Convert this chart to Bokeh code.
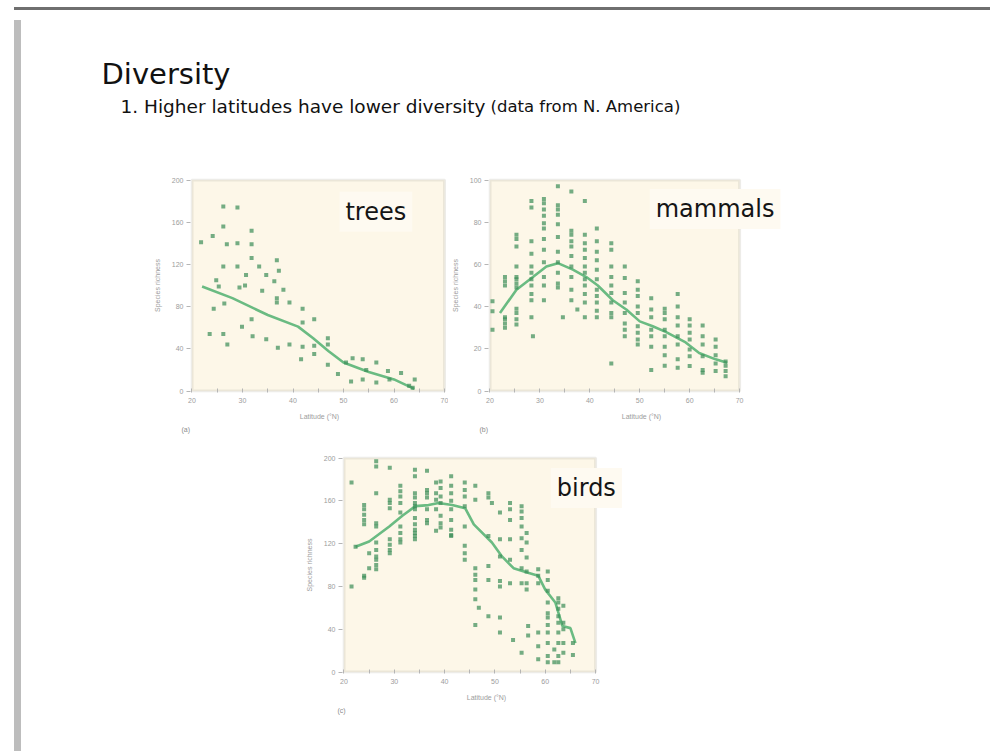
from bokeh.plotting import figure
from bokeh.layouts import column, row
from bokeh.models import Range1d, FixedTicker, Label, Div, Spacer, BoxAnnotation, Title
from bokeh.embed import file_html
from bokeh.resources import INLINE

# ---------------- data ----------------
title_text = "Diversity"
subtitle_text = "1. Higher latitudes have lower diversity"
subtitle_note = "(data from N. America)"
x_label = "Latitude (°N)"
y_label = "Species richness"
lat_ticks = [20, 30, 40, 50, 60, 70]
lat_minor = [25, 35, 45, 55, 65]

trees_lat = [26.2, 29.0, 21.8, 24.1, 26.2, 26.9, 29.0, 31.8, 31.8, 31.8, 26.2, 29.0, 30.7, 33.3,
             34.7, 36.8, 37.2, 24.8, 29.4, 30.5, 33.9, 36.3, 38.1, 25.3, 26.4, 36.8, 36.8, 39.3,
             24.3, 41.9, 31.8, 41.9, 44.2, 23.5, 26.2, 29.9, 32.0, 34.7, 27.0, 37.0, 39.3, 41.9,
             44.2, 46.9, 44.2, 46.9, 41.6, 46.9, 48.9, 50.5, 51.5, 53.8, 53.8, 56.5, 56.5, 58.8,
             61.4, 64.1, 63.7, 63.0, 59.1, 54.5, 51.8]
trees_rich = [175, 174, 141, 147, 156, 139, 140, 152, 139, 126, 118, 118, 110, 118,
              110, 124, 114, 105, 98, 100, 95, 104, 96, 99, 83, 88, 84, 84,
              78, 78, 68, 65, 68, 54, 54, 61, 52, 49, 44, 41, 44, 42,
              43, 50, 35, 44, 30, 25, 16, 27, 9, 30, 11, 27, 8, 19,
              17, 11, 3, 5, 11, 20, 31]
trees_trend_lat = [22, 28, 35, 41, 44, 47, 50, 55, 60, 64]
trees_trend_rich = [99, 88, 72, 61, 50, 38, 27, 18, 11, 2]
trees_yticks = [0, 40, 80, 120, 160, 200]

mammals_cols = [20.5, 23.0, 25.3, 28.3, 28.6, 30.8, 33.6, 34.6, 36.3, 37.5, 39.0, 41.4, 44.3,
                47.0, 49.6, 52.3, 55.0, 57.6, 60.0, 62.6, 65.2, 67.2]
mammals_vals = [
    [42.5, 37.8, 29],
    [54, 52, 50, 35, 34, 32, 30],
    [74, 72, 68.5, 59, 54, 53, 51, 49, 39, 37, 34, 31.5],
    [90, 87, 71, 65, 59, 56, 53, 50, 46, 43, 35],
    [26],
    [91, 89, 86, 83, 79.5, 77, 72, 67, 61, 54, 50, 43],
    [97, 88, 86, 83.5, 79, 73, 66, 61, 56, 51, 49],
    [35],
    [94.5, 76, 74, 71, 68.5, 64, 59, 54, 48, 43],
    [38.6],
    [90, 74, 70, 67, 63, 59, 56, 53, 50, 46, 42, 35],
    [77, 71, 66, 62, 57.5, 53, 48, 45, 42, 38, 35],
    [70, 67, 59, 54, 50, 46.5, 42, 37, 35, 13],
    [59, 53.5, 46.5, 42, 37, 32, 29, 26],
    [52, 48, 45, 40, 37, 30.7, 27.6, 24.4, 22],
    [44, 38.6, 35, 29, 26, 21, 10],
    [39, 37, 34, 29, 26, 21, 17, 12],
    [46, 40, 35, 31, 26, 22, 15, 11],
    [34, 31, 27.6, 24.4, 19.7, 16.5, 11.8],
    [31, 26, 22, 16.5, 10, 8.7],
    [24.4, 21, 17, 13, 9.5],
    [14, 12, 9.5, 7],
]
mammals_trend_lat = [22, 25.3, 28.6, 31.3, 33.6, 36.6, 39.3, 41.6, 44.6, 47.3, 50, 52.6, 55.2,
                     59.2, 61.9, 65.2, 67.5]
mammals_trend_rich = [37, 48, 54, 59, 60.6, 57.5, 54, 50, 43, 38.6, 33, 30.7, 28, 23, 18, 15, 13.4]
mammals_yticks = [0, 20, 40, 60, 80, 100]

birds_cols = [21.5, 22.3, 24.0, 25.0, 26.4, 29.1, 31.2, 34.1, 36.5, 38.3, 39.2, 41.3, 44.0,
              46.1, 46.8, 48.7, 49.4, 51.0, 53.0, 53.6, 55.3, 56.3, 56.6, 58.6, 60.5, 61.8,
              62.6, 63.6, 65.5]
birds_vals = [
    [177, 80],
    [117],
    [156, 152, 147, 142, 138, 90, 88],
    [97, 111],
    [197, 192, 167, 139, 136, 121, 114, 108, 105, 100, 96],
    [191, 161, 158, 153, 124, 119, 114, 111],
    [174, 169, 164, 158, 149, 136, 130, 124, 121],
    [189, 183, 167, 163, 158, 155, 152, 144, 138, 133, 130, 127, 124],
    [188, 170, 167, 163, 152, 142, 139],
    [177, 167, 161, 152, 132],
    [178, 172, 164, 158, 146, 139, 135],
    [183, 174, 167, 160, 152, 142, 133, 128, 127],
    [177, 170, 164, 155, 136, 118, 111, 105],
    [174, 161, 97, 91, 86, 77, 68, 44],
    [60],
    [167, 163, 127, 99, 86, 52],
    [158],
    [149, 124, 108, 85, 80, 51, 37],
    [158, 152, 142, 124, 105, 83],
    [30],
    [155, 150, 144, 136, 125, 114, 97, 83, 18],
    [130, 121, 107, 94, 83, 77],
    [43, 34],
    [96, 90, 83, 37, 24, 12],
    [94, 86, 76, 65, 55, 51, 44, 37, 27, 15, 9],
    [21, 9],
    [69, 65, 59, 52, 46, 37, 27, 15, 9],
    [62, 46, 40, 27, 18],
    [27, 16],
]
birds_trend_lat = [22.3, 25, 29, 31.6, 34.2, 36.8, 38.8, 41.5, 44.1, 45.8, 49.4, 51.4, 53.7,
                   56.4, 58.6, 60, 62, 63.4, 65, 66]
birds_trend_rich = [117, 122, 136, 146, 155, 156, 158, 156, 153, 138, 121, 108, 97, 93, 90, 77,
                    65, 43, 41, 27]
birds_yticks = [0, 40, 80, 120, 160, 200]


def flatten(cols, vals):
    xs, ys = [], []
    for c, vs in zip(cols, vals):
        for v in vs:
            xs.append(c)
            ys.append(v)
    return xs, ys


mammals_lat, mammals_rich = flatten(mammals_cols, mammals_vals)
birds_lat, birds_rich = flatten(birds_cols, birds_vals)

# ---------------- styles ----------------
FONT = "Liberation Sans"
BIG = "DejaVu Sans"
PT_COLOR = "#3f8f5a"
LINE_COLOR = "#45ab68"
BG = "#fdf7e8"
FRAME = "#c4bfb2"
TICK_TXT = "#9c9c9c"
XMIN, XMAX = 20, 70
PAD = 1.5


def panel(ox, oy, box_l, box_r, box_t, box_b, ext_r, bottom_h, ymax, yticks,
          xs, ys, tx, ty, name, name_x, name_y, tag, tag_off):
    ppx = (box_r - box_l) / (XMAX - XMIN)
    ppy = (box_b - box_t) / ymax
    frame_l = box_l - PAD
    frame_r = box_r + ext_r
    frame_t = box_t - PAD
    frame_b = box_b + PAD
    ml = int(round(frame_l - ox))
    fw = int(round(frame_r - frame_l))
    mt = int(round(frame_t - oy))
    fh = int(round(frame_b - frame_t))
    p = figure(width=ml + fw, height=mt + fh + bottom_h, output_backend="svg",
               toolbar_location=None,
               x_range=Range1d(XMIN - PAD / ppx, XMAX + ext_r / ppx),
               y_range=Range1d(-PAD / ppy, ymax + PAD / ppy),
               min_border_left=ml, min_border_right=0, min_border_top=mt,
               min_border_bottom=bottom_h)
    p.background_fill_color = "white"
    p.border_fill_color = "white"
    p.outline_line_color = None
    p.grid.visible = False
    p.add_layout(BoxAnnotation(left=XMIN, right=XMAX, bottom=0, top=ymax,
                               fill_color=BG, fill_alpha=1.0,
                               line_color=FRAME, line_width=3, level="underlay"))
    p.xaxis.ticker = FixedTicker(ticks=lat_ticks, minor_ticks=lat_minor)
    p.yaxis.ticker = FixedTicker(ticks=yticks)
    p.xaxis.bounds = (XMIN, XMAX)
    p.yaxis.bounds = (0, ymax)
    for ax in (p.xaxis[0], p.yaxis[0]):
        ax.axis_line_color = None
        ax.major_tick_line_color = "#b5b5b5"
        ax.minor_tick_line_color = "#b5b5b5"
        ax.major_label_text_font = FONT
        ax.major_label_text_font_size = "7px"
        ax.major_label_text_color = TICK_TXT
        ax.axis_label_text_font = FONT
        ax.axis_label_text_font_size = "7px"
        ax.axis_label_text_color = TICK_TXT
        ax.axis_label_text_font_style = "normal"
    p.xaxis.major_tick_in = 4
    p.xaxis.major_tick_out = 0
    p.xaxis.minor_tick_in = 4
    p.xaxis.minor_tick_out = 0
    p.xaxis.major_label_standoff = 5
    p.xaxis.axis_label_standoff = 7
    p.xaxis.axis_label = x_label
    p.yaxis.major_tick_in = 0
    p.yaxis.major_tick_out = 4
    p.yaxis.minor_tick_line_color = None
    p.yaxis.major_label_standoff = 3
    p.yaxis.axis_label_standoff = 8
    p.yaxis.axis_label = y_label

    p.line(tx, ty, line_color=LINE_COLOR, line_width=2.6, line_alpha=0.8)
    p.scatter(xs, ys, marker="square", size=4, fill_color=PT_COLOR, line_color=None,
              fill_alpha=0.72)
    p.add_layout(Label(x=name_x, y=name_y, text=name, text_font=BIG,
                       text_font_size="24px", text_color="#151515",
                       text_align="left", text_baseline="middle",
                       background_fill_color="#fefaf1", padding=6))
    p.add_layout(Title(text=tag, align="left", offset=tag_off, text_font=FONT,
                       text_font_size="7px", text_color="#8c8c8c",
                       text_font_style="normal", standoff=2), "below")
    return p


X0, Y0 = 24, 13          # content origin inside the page
HEADER_H = 147

trees = panel(X0, Y0 + HEADER_H, 189, 442, 177, 388, 4, 52, 200, trees_yticks,
              trees_lat, trees_rich, trees_trend_lat, trees_trend_rich,
              "trees", 49.2, 170, "(a)", -9)
mx = X0 + trees.width
mammals = panel(mx, Y0 + HEADER_H, 487, 737, 177, 388, 55, 52, 100, mammals_yticks,
                mammals_lat, mammals_rich, mammals_trend_lat, mammals_trend_rich,
                "mammals", 52.0, 86.3, "(b)", -9)
by = Y0 + HEADER_H + trees.height
birds = panel(X0, by, 342, 594, 455, 669, 35, 50, 200, birds_yticks,
              birds_lat, birds_rich, birds_trend_lat, birds_trend_rich,
              "birds", 61.1, 172, "(c)", -5)

# header (coordinates = pixels of this strip)
header = figure(width=969, height=HEADER_H, output_backend="svg", toolbar_location=None,
                x_range=Range1d(0, 969), y_range=Range1d(HEADER_H, 0),
                x_axis_type=None, y_axis_type=None,
                min_border=0, min_border_left=0, min_border_right=0,
                min_border_top=0, min_border_bottom=0)
header.grid.visible = False
header.outline_line_color = None
header.background_fill_color = "white"
header.border_fill_color = "white"
header.add_layout(Label(x=75, y=58, text=title_text, text_font=BIG,
                        text_font_size="29px", text_color="#111111",
                        text_align="left", text_baseline="alphabetic"))
header.add_layout(Label(x=94, y=91, text=subtitle_text, text_font=BIG,
                        text_font_size="18.5px", text_color="#111111",
                        text_align="left", text_baseline="alphabetic"))
header.add_layout(Label(x=464, y=91, text=subtitle_note, text_font=BIG,
                        text_font_size="16.5px", text_color="#111111",
                        text_align="left", text_baseline="alphabetic"))

content = column(row(header), row(trees, mammals, spacing=0), row(birds), spacing=0)

top_line = Div(text="", width=976, height=3, styles={"background-color": "#6f6f6f"})
left_line = Div(text="", width=7, height=731, styles={"background-color": "#bdbdbd"})

page = column(
    Spacer(width=985, height=2),
    row(Spacer(width=9, height=3), top_line, spacing=0),
    row(Spacer(width=9, height=731), left_line, content, spacing=0),
    spacing=0,
)

open("out.html", "w").write(file_html(page, INLINE))
